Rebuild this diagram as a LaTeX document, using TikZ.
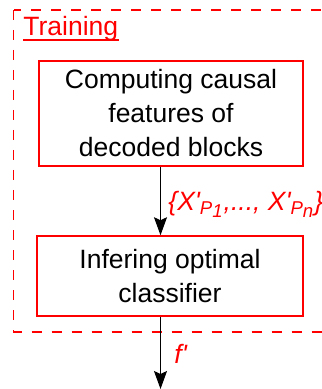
\documentclass[tikz,border=0pt]{standalone}
\usepackage{fontspec}
\setmainfont{Liberation Sans}
\usetikzlibrary{arrows.meta}

\begin{document}
\begin{tikzpicture}[x=0.5pt, y=-0.5pt,
    >={Stealth[length=9pt, width=6.5pt, inset=1.5pt]},
    stagebox/.style={draw=red, line width=0.75pt, fill=white, align=center,
      inner sep=0pt, font=\fontsize{13.25}{17}\selectfont},
    redlabel/.style={text=red, inner sep=0pt, anchor=base west,
      font=\fontsize{13.25}{16}\selectfont\itshape}]
  \useasboundingbox (0,0) rectangle (321,389);

  % Training frame
  \draw[red, dash pattern=on 5pt off 5pt, line width=0.75pt] (13.5,10) rectangle (335,332);
  \node[text=red, inner sep=0pt, anchor=base west, font=\fontsize{13.25}{16}\selectfont] (train) at (23,36) {Training};
  \draw[red, line width=0.6pt] ([yshift=-2pt]train.base west) -- ([yshift=-2pt]train.base east);

  % Stages
  \node[stagebox, minimum width=132pt, minimum height=52.5pt] (features) at (171,113.5)
    {Computing causal\\ features of\\ decoded blocks};
  \node[stagebox, minimum width=133pt, minimum height=40pt] (classifier) at (170,276)
    {Infering optimal\\ classifier};

  % Data flow
  \coordinate (out) at (160.5,389);
  \draw[->, line width=0.6pt] (features.south -| out) -- (classifier.north -| out);
  \draw[->, line width=0.6pt] (classifier.south -| out) -- (out);

  % Labels
  \node[redlabel] (featset) at (168,210)
    {\{X\textquotesingle\textsubscript{P\raisebox{-0.3ex}{1}},..., X\textquotesingle\textsubscript{P\raisebox{-0.3ex}{n}}\}};
  \node[redlabel] (fprime) at (174,363) {f\textquotesingle};
\end{tikzpicture}
\end{document}
